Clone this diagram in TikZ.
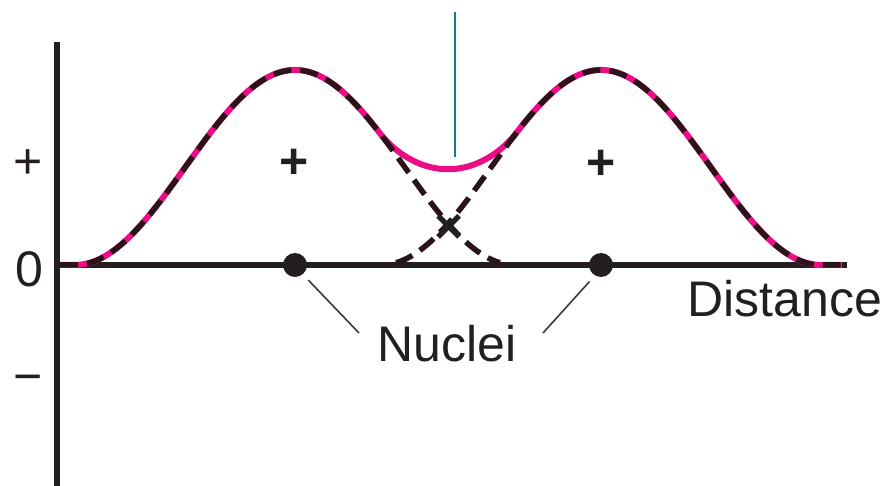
\documentclass[tikz,border=0pt]{standalone}
\usepackage{fontspec}
\setmainfont{Liberation Sans}
\usetikzlibrary{positioning}
\definecolor{axisline}{HTML}{231F20}
\definecolor{dashline}{HTML}{2A1418}
\definecolor{bondline}{HTML}{EC0C86}
\definecolor{midline}{HTML}{17807C}
\definecolor{leadline}{HTML}{3A3A3A}

\begin{document}
\begin{tikzpicture}[
  x=1pt, y=-1pt,
  declare function={
    orb(\x)  = (abs(\x)<220)*97.5*(1+cos(0.818182*\x));
    bond(\x) = pow(pow(orb(\x-295)+0.01,0.825)+pow(orb(\x-601)+0.01,0.825),1.212121);
  },
  axisln/.style  = {draw=axisline, line width=6pt},
  bonding/.style = {draw=bondline, line width=6pt, line join=round},
  orbital/.style = {draw=dashline, line width=5.5pt, dash pattern=on 18pt off 9pt},
  leader/.style  = {draw=leadline, line width=1.6pt, shorten <=8pt},
  nucleus/.style = {circle, fill=axisline, minimum size=24pt, inner sep=0pt},
  lbl/.style     = {font=\fontsize{50}{60}\selectfont, text=axisline, inner sep=0pt, anchor=base},
  sign/.style    = {lbl, font=\fontsize{50}{60}\selectfont\bfseries},
]
\useasboundingbox (0,0) rectangle (889,486);

%% ---------------------------------------------------------------- axes
\coordinate (ytop) at (57,42);
\coordinate (ybot) at (57,486);
\coordinate (orig) at (57,265);
\coordinate (xend) at (847,265);
\draw[axisln] (ytop) -- (ybot);
\draw[axisln, line width=5.5pt] (orig) -- (xend);

\node[lbl] (lplus)  at (28,179) {+};
\node[lbl] (lzero)  at (29,287) {0};
\node[lbl] (lminus) at (28,393) {−};

%% ---------------------------------------------------------------- curves
\draw[bonding] plot[domain=60:842, samples=260] (\x,{265-bond(\x)});
\draw[orbital] plot[domain=60:500, samples=180] (\x,{265-orb(\x-295)});
\draw[orbital] plot[domain=396:842, samples=180] (\x,{265-orb(\x-601)});

\coordinate (mtop) at (455,12);
\coordinate (mbot) at (455,157);
\draw[draw=midline, line width=2.2pt] (mtop) -- (mbot);

%% ---------------------------------------------------------------- nuclei
\node[nucleus] (nuc1) at (295,265) {};
\node[nucleus] (nuc2) at (601,265) {};

\node[sign] (plus1) at (294,179) {+};
\node[sign] (plus2) at (601,180) {+};
\node[sign] (cross) at (449,244) {×};

\node[lbl] (nuclei) at (447,361) {Nuclei};
\node[lbl] (dist)   at (785,317) {Distance};

\coordinate (lead1) at (359,333);
\coordinate (lead2) at (543,333);
\draw[leader] (nuc1.-50)  -- (lead1);
\draw[leader] (nuc2.-120) -- (lead2);
\end{tikzpicture}
\end{document}
